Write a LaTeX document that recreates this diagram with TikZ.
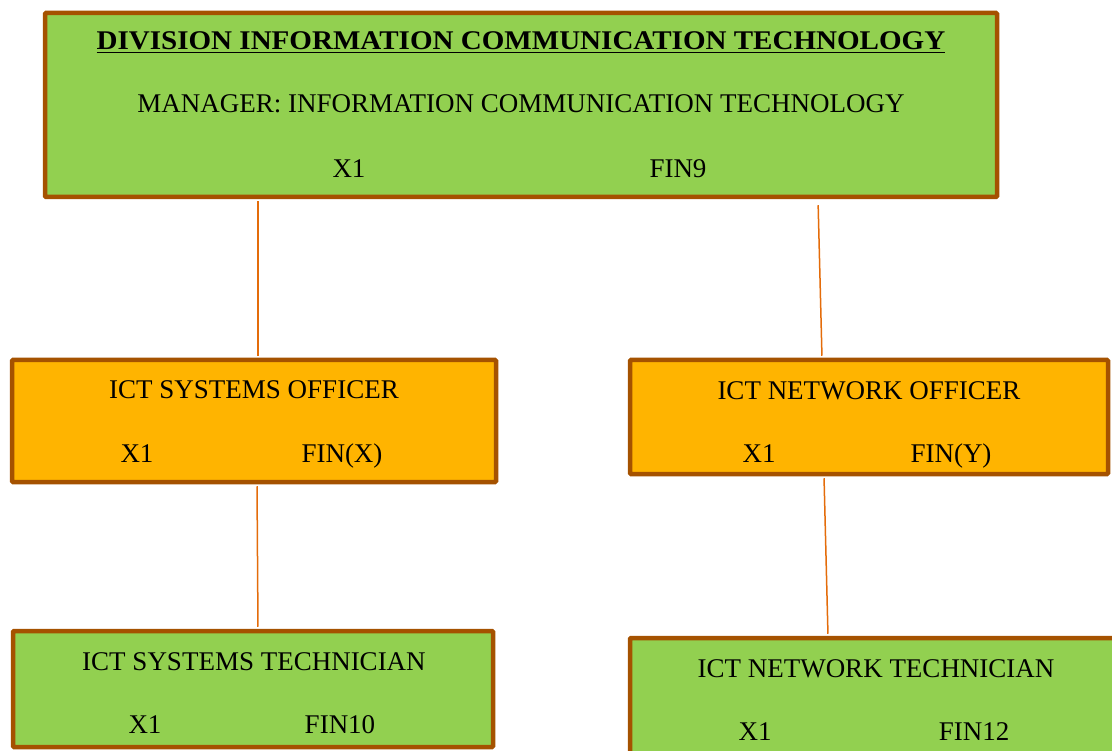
\documentclass[tikz,border=0pt]{standalone}
\usepackage{fontspec}
\setmainfont{Liberation Serif}
\newfontfamily\titlefont[FakeStretch=1.076]{Liberation Serif}
\definecolor{boxgreen}{RGB}{146,208,80}
\definecolor{boxgold}{RGB}{255,180,0}
\definecolor{boxrim}{RGB}{165,82,0}
\definecolor{linkorange}{RGB}{228,108,10}
\tikzset{%
  post/.style    = {shape=rectangle, draw=boxrim, line width=4.5pt,%
                    inner sep=0pt, rounded corners=1pt},%
  head/.style    = {post, fill=boxgreen},%
  officer/.style = {post, fill=boxgold},%
  txt/.style     = {anchor=base, inner sep=0pt,%
                    font=\fontsize{27}{30}\selectfont},%
  link/.style    = {draw=linkorange, line width=1.5pt,%
                    shorten <=2pt, shorten >=2pt}%
}

\begin{document}
\begin{tikzpicture}[x=1pt, y=-1pt]
  \useasboundingbox (0,0) rectangle (1112,751);
  % boxes
  \node[head, minimum width=952pt, minimum height=184pt] (mgr) at (521,105) {};
  \node[officer, minimum width=484pt, minimum height=122pt] (sysoff) at (254,421) {};
  \node[officer, minimum width=478pt, minimum height=114pt] (netoff) at (869,417) {};
  \node[head, minimum width=480pt, minimum height=116pt] (systech) at (253,689) {};
  \node[head, minimum width=486pt, minimum height=118pt] (nettech) at (873,697) {};
  % texts
  \node[txt, font=\titlefont\fontsize{27}{30}\selectfont\bfseries] (mgrT) at (521,50)
    {\underline{DIVISION INFORMATION COMMUNICATION TECHNOLOGY}};
  \node[txt] (mgrN) at (521,113) {MANAGER: INFORMATION COMMUNICATION TECHNOLOGY};
  \node[txt] (mgrA) at (349,178) {X1};
  \node[txt] (mgrB) at (678,178) {FIN9};
  \node[txt] (sysoffT) at (254,399) {ICT SYSTEMS OFFICER};
  \node[txt] (sysoffA) at (137,462) {X1};
  \node[txt] (sysoffB) at (342,462) {FIN(X)};
  \node[txt] (netoffT) at (869,400) {ICT NETWORK OFFICER};
  \node[txt] (netoffA) at (759,463) {X1};
  \node[txt] (netoffB) at (951,463) {FIN(Y)};
  \node[txt] (systechT) at (254,670) {ICT SYSTEMS TECHNICIAN};
  \node[txt] (systechA) at (145,733) {X1};
  \node[txt] (systechB) at (340,733) {FIN10};
  \node[txt] (nettechT) at (876,677) {ICT NETWORK TECHNICIAN};
  \node[txt] (nettechA) at (755,740) {X1};
  \node[txt] (nettechB) at (974,740) {FIN12};
  % connectors
  \draw[link] ([xshift=-263pt]mgr.south) -- ([xshift=4pt]sysoff.north);
  \draw[link, shorten <=6pt] ([xshift=297pt]mgr.south) -- ([xshift=-47pt]netoff.north);
  \draw[link] ([xshift=3pt]sysoff.south) -- ([xshift=5pt]systech.north);
  \draw[link] ([xshift=-45pt]netoff.south) -- ([xshift=-45pt]nettech.north);
\end{tikzpicture}
\end{document}
